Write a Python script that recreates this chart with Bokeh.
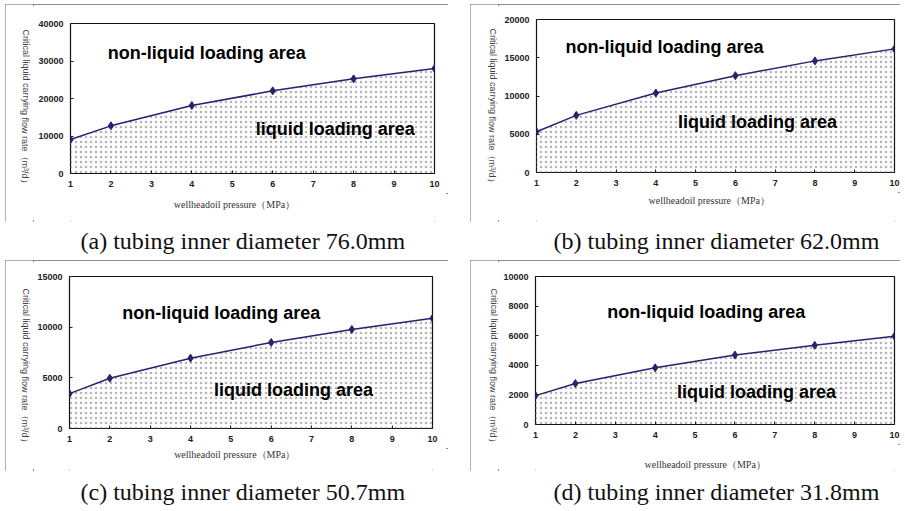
from bokeh.plotting import figure
from bokeh.models import FixedTicker, Label, Spacer
from bokeh.layouts import row, column
from bokeh.embed import file_html
from bokeh.resources import INLINE
from bokeh.core.properties import value

# ---------------- data ----------------
pressure = [1, 2, 4, 6, 8, 10]
rate_a = [9070, 12710, 18130, 22040, 25240, 28000]
rate_b = [5330, 7470, 10390, 12660, 14590, 16160]
rate_c = [3440, 4960, 6940, 8490, 9780, 10870]
rate_d = [1950, 2770, 3830, 4690, 5350, 5970]

x_ticks = [1, 2, 3, 4, 5, 6, 7, 8, 9, 10]
yticks_a = [0, 10000, 20000, 30000, 40000]
yticks_b = [0, 5000, 10000, 15000, 20000]
yticks_c = [0, 5000, 10000, 15000]
yticks_d = [0, 2000, 4000, 6000, 8000, 10000]

captions = ["(a) tubing inner diameter 76.0mm",
            "(b) tubing inner diameter 62.0mm",
            "(c) tubing inner diameter 50.7mm",
            "(d) tubing inner diameter 31.8mm"]
upper_label = "non-liquid  loading area"
lower_label = "liquid loading area"
y_title = "Critical liquid carrying flow rate（m³/d）"
x_title = "wellheadoil pressure（MPa）"

LINE = "#24246e"
YW = 28      # width of the y-title strip
PB = 20      # bottom border of the plot (tick labels)


def blank(w, h):
    f = figure(width=w, height=h, x_range=(0, w), y_range=(h, 0),
               output_backend="svg", toolbar_location=None,
               x_axis_type=None, y_axis_type=None, min_border=0)
    f.xgrid.visible = False
    f.ygrid.visible = False
    f.outline_line_color = None
    return f


def panel(rate, yticks, w, h, bl, br, bt, bb, up_xy, low_xy, ypos, xpos):
    ymax = yticks[-1]
    xh = bb - PB
    ph = h - xh
    p = figure(width=w - YW, height=ph, x_range=(1, 10), y_range=(0, ymax),
               output_backend="svg", toolbar_location=None,
               min_border_left=bl - YW, min_border_right=br,
               min_border_top=bt, min_border_bottom=PB)
    p.xgrid.visible = False
    p.ygrid.visible = False
    p.outline_line_color = "#111111"
    p.outline_line_width = 1.2
    for ax in (p.xaxis, p.yaxis):
        ax.axis_line_color = None
        ax.major_tick_in = 3
        ax.major_tick_out = 0
        ax.minor_tick_line_color = None
        ax.major_tick_line_color = "#222222"
        ax.major_label_text_font = "Liberation Sans"
        ax.major_label_text_font_style = "bold"
        ax.major_label_text_font_size = "9px"
        ax.major_label_text_color = "#222222"
        ax.major_label_standoff = 7
    p.xaxis.ticker = FixedTicker(ticks=x_ticks)
    p.yaxis.ticker = FixedTicker(ticks=yticks)

    p.varea(x=pressure, y1=[0] * len(pressure), y2=rate, fill_alpha=0,
            hatch_pattern="dot", hatch_scale=5, hatch_color="#b4b4b4", hatch_weight=0.5)
    p.line(pressure, rate, line_color=LINE, line_width=1.5)
    p.scatter(pressure, rate, marker="diamond", size=8, color=LINE)

    for (lx, ly), txt in ((up_xy, upper_label), (low_xy, lower_label)):
        p.add_layout(Label(x=lx, y=ly, text=txt, text_font="Liberation Sans",
                           text_font_style="bold", text_font_size="18px",
                           text_baseline="middle", text_color="black"))

    yf = blank(YW, h)
    yf.text(x=[ypos[0]], y=[ypos[1]], text=[y_title], angle=-1.5708,
            text_font=value("Liberation Sans"), text_font_size="9px",
            text_align="center", text_baseline="middle", text_color="#444444")

    xf = blank(w - YW, xh)
    xf.text(x=[xpos[0] - YW], y=[xpos[1]], text=[x_title],
            text_font=value("Liberation Serif"), text_font_size="10px",
            text_align="center", text_baseline="middle", text_color="#333333")

    box = row(yf, column(p, xf))
    box.styles = {"outline": "2px solid #666666", "outline-offset": "-2px"}
    return box


def caption(text, w, h, tx, ty):
    c = blank(w, h)
    c.text(x=[tx], y=[ty], text=[text], text_font=value("Liberation Serif"),
           text_font_size="24px", text_align="left", text_baseline="middle",
           text_color="#111111")
    return c


pa = panel(rate_a, yticks_a, 443, 218, 65, 14, 19, 49, (1.92, 32190), (5.58, 11920), (20, 104), (215, 11))
pb = panel(rate_b, yticks_b, 430, 218, 66, 6, 15, 50, (1.73, 16370), (4.56, 6550), (22, 103), (222, 8))
pc = panel(rate_c, yticks_c, 443, 211, 64, 16, 16, 43, (2.31, 11420), (4.58, 3820), (20, 107), (217, 6))
pd = panel(rate_d, yticks_d, 430, 211, 65, 6, 16, 47, (2.80, 7635), (4.55, 2180), (23, 107), (218, 20))

ca = caption(captions[0], 443, 38, 75, 18)
cb = caption(captions[1], 430, 38, 83, 18)
cc = caption(captions[2], 443, 37, 75, 20)
cd = caption(captions[3], 430, 37, 83, 20)

root = column(row(pa, Spacer(width=22), pb),
              row(ca, Spacer(width=22), cb),
              row(pc, Spacer(width=22), pd),
              row(cc, Spacer(width=22), cd))
root.styles = {"margin-left": "5px", "margin-top": "4px"}

open("out.html", "w").write(file_html(root, INLINE))
